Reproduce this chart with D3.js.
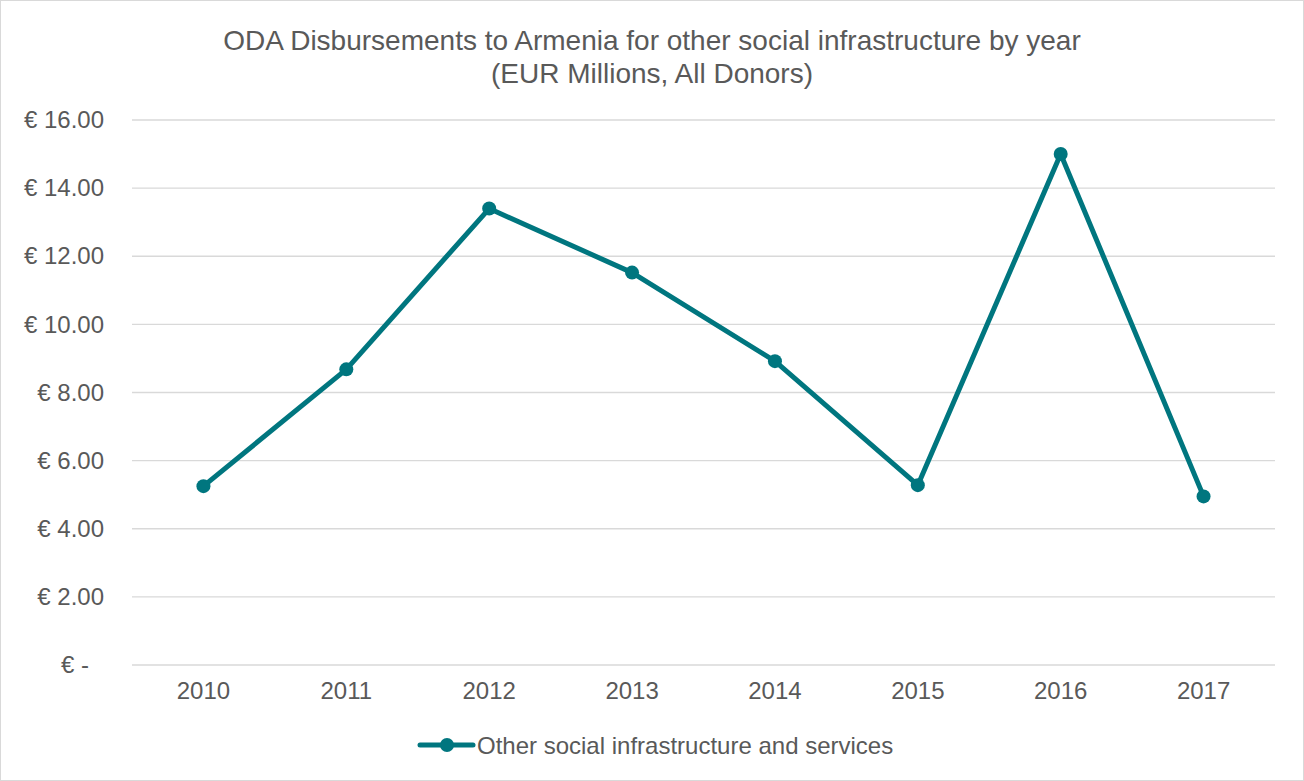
<!DOCTYPE html>
<html lang="en">
<head>
<meta charset="UTF-8">
<script src="https://d3js.org/d3.v7.min.js"></script>
<style>
  body { margin: 0; background: #fff; }
  text { font-family: "Liberation Sans", Arial, sans-serif; fill: #595959; }
</style>
</head>
<body>
<div id="chart"></div>
<script>
// data
const years = ["2010", "2011", "2012", "2013", "2014", "2015", "2016", "2017"];
const values = [5.25, 8.68, 13.4, 11.52, 8.92, 5.28, 15.0, 4.95];
const yTicks = [0, 2, 4, 6, 8, 10, 12, 14, 16];
const seriesName = "Other social infrastructure and services";
const titleLines = ["ODA Disbursements to Armenia for other social infrastructure by year", "(EUR Millions, All Donors)"];

const W = 1304, H = 781;
const margin = {top: 120, right: 29, bottom: 116, left: 132};
const width = W - margin.left - margin.right;
const height = H - margin.top - margin.bottom;
const teal = "#00767f";

const svg = d3.select("#chart").append("svg")
    .attr("width", W).attr("height", H);

// outer frame
svg.append("rect")
    .attr("x", 0.5).attr("y", 0.5)
    .attr("width", W - 1).attr("height", H - 1)
    .attr("fill", "#fff").attr("stroke", "#d9d9d9");

// title
svg.append("text")
    .attr("x", 652).attr("y", 50)
    .attr("text-anchor", "middle")
    .style("font-size", "28px")
    .selectAll("tspan").data(titleLines).join("tspan")
    .attr("x", 652).attr("dy", (d, i) => i ? 33 : 0)
    .text(d => d);

const g = svg.append("g").attr("transform", `translate(${margin.left},${margin.top})`);

const x = d3.scaleBand().domain(years).range([0, width]);
const y = d3.scaleLinear().domain([0, 16]).range([height, 0]);

// gridlines
g.selectAll(".grid").data(yTicks).join("line")
    .attr("x1", 0).attr("x2", width)
    .attr("y1", d => y(d)).attr("y2", d => y(d))
    .attr("stroke", "#d9d9d9").attr("stroke-width", 1.3);

// y axis labels
const yAxis = d3.axisLeft(y).tickValues(yTicks).tickSize(0).tickPadding(28)
    .tickFormat(d => d === 0 ? "€ -" : "€ " + d3.format(".2f")(d));
g.append("g").call(yAxis)
    .call(a => a.select(".domain").remove())
    .selectAll("text").style("font-size", "24px").attr("fill", "#595959")
    .attr("dx", d => d === 0 ? -15 : 0);

// x axis labels
g.append("g").attr("transform", `translate(0,${height})`)
    .call(d3.axisBottom(x).tickSize(0).tickPadding(17))
    .call(a => a.select(".domain").remove())
    .selectAll("text").style("font-size", "24px").attr("fill", "#595959");

// line
const line = d3.line().x((d, i) => x(years[i]) + x.bandwidth() / 2).y(d => y(d));
g.append("path").datum(values)
    .attr("fill", "none").attr("stroke", teal)
    .attr("stroke-width", 5).attr("stroke-linejoin", "round")
    .attr("d", line);

g.selectAll(".pt").data(values).join("circle")
    .attr("cx", (d, i) => x(years[i]) + x.bandwidth() / 2)
    .attr("cy", d => y(d))
    .attr("r", 7).attr("fill", teal);

// legend
const lg = svg.append("g").attr("transform", "translate(418,745)");
lg.append("line").attr("x1", 2).attr("x2", 55).attr("y1", 0).attr("y2", 0)
    .attr("stroke", teal).attr("stroke-width", 5).attr("stroke-linecap", "round");
lg.append("circle").attr("cx", 29).attr("cy", 0).attr("r", 7).attr("fill", teal);
lg.append("text").attr("x", 59).attr("y", 9)
    .style("font-size", "24px").text(seriesName);
</script>
</body>
</html>
